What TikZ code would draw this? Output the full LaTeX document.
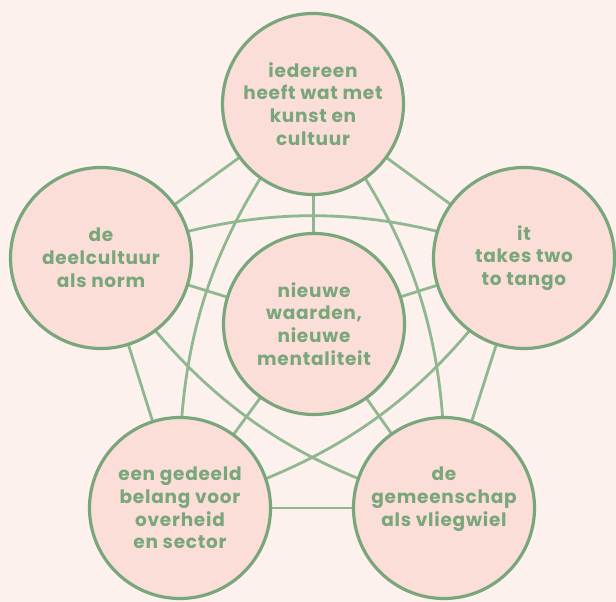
\documentclass[tikz,border=0pt]{standalone}
\usepackage{fontspec}
\setmainfont{Poppins}[LetterSpace=4]
\usetikzlibrary{positioning, backgrounds}

\definecolor{bgpink}{RGB}{252,241,237}
\definecolor{circpink}{RGB}{251,222,216}
\definecolor{darkgreen}{RGB}{122,166,124}
\definecolor{lightgreen}{RGB}{143,184,145}

\begin{document}
\begin{tikzpicture}[
    x=1pt, y=-1pt,
    idea/.style={circle, draw=darkgreen, line width=3.2pt, fill=circpink, minimum size=181pt, inner sep=0pt, align=center, text=darkgreen, font=\fontsize{18.5}{22.8}\selectfont\bfseries},
    link/.style={draw=lightgreen, line width=2.8pt}
]
    \useasboundingbox (0,0) rectangle (616,602);

    % Nodes
    \node[idea] (top) at (313,104) {iedereen\\heeft wat met\\kunst en\\cultuur};
    \node[idea] (left) at (101,258) {de\\deelcultuur\\als norm};
    \node[idea] (right) at (524,258) {it\\takes two\\to tango};
    \node[idea] (mid) at (314,324) {nieuwe\\waarden,\\nieuwe\\mentaliteit};
    \node[idea] (botleft) at (180,508) {een gedeeld\\belang voor\\overheid\\en sector};
    \node[idea] (botright) at (444,508) {de\\gemeenschap\\als vliegwiel\\\mbox{}};

    \begin{pgfonlayer}{background}
    % Background
    \fill[bgpink] (0,0) rectangle (616,602);

    % Outer ring
    \draw[link] (top.center) -- (left.center);
    \draw[link] (top.center) -- (right.center);
    \draw[link] (left.center) -- (botleft.center);
    \draw[link] (right.center) -- (botright.center);
    \draw[link] (botleft.center) -- (botright.center);

    % Spokes
    \draw[link] (mid.center) -- (top.center);
    \draw[link] (mid.center) -- (left.center);
    \draw[link] (mid.center) -- (right.center);
    \draw[link] (mid.center) -- (botleft.center);
    \draw[link] (mid.center) -- (botright.center);

    % Curved diagonals
    \draw[link] (top.center) to[bend right=20] (botleft.center);
    \draw[link] (left.center) to[bend right=20] (botright.center);
    \draw[link] (botleft.center) to[bend right=20] (right.center);
    \draw[link] (botright.center) to[bend right=20] (top.center);
    \draw[link] (right.center) to[bend right=20] (left.center);
    \end{pgfonlayer}

\end{tikzpicture}
\end{document}
